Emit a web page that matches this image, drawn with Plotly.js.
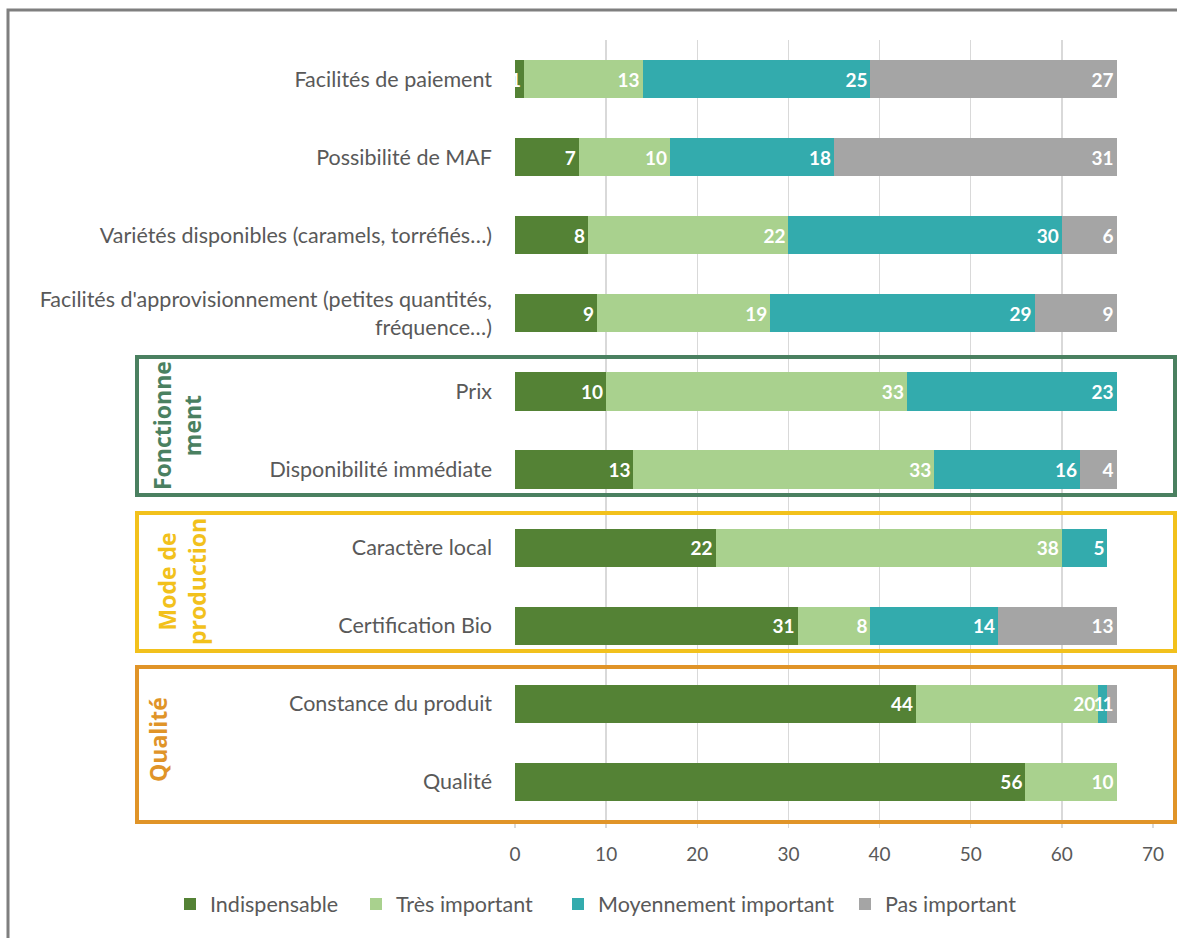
<!DOCTYPE html>
<html><head><meta charset="utf-8">
<script src="https://cdn.plot.ly/plotly-3.0.1.min.js"></script>
<style>body{margin:0;background:#fff}</style>
</head><body><div id="chart" style="width:1177px;height:938px"></div>
<script>
const categories = [
  "Facilités de paiement",
  "Possibilité de MAF",
  "Variétés disponibles (caramels, torréfiés…)",
  "Facilités d'approvisionnement (petites quantités,<br>fréquence…)",
  "Prix",
  "Disponibilité immédiate",
  "Caractère local",
  "Certification Bio",
  "Constance du produit",
  "Qualité"
];
const indispensable = [1, 7, 8, 9, 10, 13, 22, 31, 44, 56];
const tresImportant = [13, 10, 22, 19, 33, 33, 38, 8, 20, 10];
const moyennement = [25, 18, 30, 29, 23, 16, 5, 14, 1, 0];
const pasImportant = [27, 31, 6, 9, 0, 4, 0, 13, 1, 0];
const seriesNames = ["Indispensable", "Très important", "Moyennement important", "Pas important"];
const seriesColors = ["#548235", "#a9d18e", "#33abad", "#a5a5a5"];
const seriesValues = [indispensable, tresImportant, moyennement, pasImportant];

const W = 1177, H = 938, L = 515, R = 1153, T = 40, B = 821;
const px = x => (x - L) / (R - L);
const py = y => (B - y) / (B - T);
const legendIds = ['legend', 'legend2', 'legend3', 'legend4'];
const legendLeft = [170, 356, 558, 845];

const traces = seriesValues.map((vals, i) => ({
  type: 'bar', orientation: 'h', name: seriesNames[i],
  y: categories, x: vals, legend: legendIds[i],
  marker: {color: seriesColors[i]},
  text: vals.map(v => v === 0 ? '' : String(v)),
  textposition: 'inside', insidetextanchor: 'end',
  textfont: {color: '#ffffff', size: 19, family: 'Lato', weight: 'bold'},
  hoverinfo: 'x+y'
}));

function box(x0, y0, x1, y1, color) {
  return {type: 'rect', xref: 'paper', yref: 'paper', x0: px(x0), x1: px(x1), y0: py(y1), y1: py(y0),
    line: {color: color, width: 4}, fillcolor: 'rgba(0,0,0,0)', layer: 'above'};
}
function label(text, x, y, color) {
  return {xref: 'paper', yref: 'paper', x: px(x), y: py(y), text: text, showarrow: false, textangle: -90,
    font: {family: 'Open Sans', size: 23, color: color, weight: 'bold'}, align: 'center',
    xanchor: 'center', yanchor: 'middle'};
}

const layout = {
  width: W, height: H,
  margin: {l: L, r: W - R, t: T, b: H - B},
  barmode: 'stack', bargap: 0.51,
  paper_bgcolor: '#ffffff', plot_bgcolor: '#ffffff',
  font: {family: 'Lato', size: 19, color: '#595959'},
  uniformtext: {minsize: 18, mode: 'show'},
  xaxis: {range: [0, 70], dtick: 10, showgrid: true, gridcolor: '#d9d9d9', gridwidth: 1.5,
    zeroline: false, showline: false, ticks: 'outside', ticklen: 6, tickcolor: '#d9d9d9', tickwidth: 1.5,
    ticklabelstandoff: 10, tickfont: {size: 19, color: '#595959'}},
  yaxis: {autorange: 'reversed', showgrid: false, zeroline: false, showline: false, ticks: '',
    ticklabelstandoff: 22, tickfont: {size: 21.5, color: '#595959'}},
  showlegend: true,
  shapes: [
    {type: 'rect', xref: 'paper', yref: 'paper', x0: px(8), x1: px(1200), y0: py(960), y1: py(10),
      line: {color: '#7f7f7f', width: 3}, fillcolor: 'rgba(0,0,0,0)', layer: 'below'},
    box(137, 357, 1175, 495, '#4a8060'),
    box(137, 513, 1175, 651, '#f2c11c'),
    box(137, 667, 1175, 822, '#e09428')
  ],
  annotations: [
    label('Fonctionne<br>ment', 177, 426, '#4a8060'),
    label('Mode de<br>production', 182, 582, '#f2c11c'),
    label('Qualité', 158, 740, '#e09428')
  ]
};
legendIds.forEach((id, i) => {
  layout[id] = {orientation: 'h', x: px(legendLeft[i]), xref: 'paper', xanchor: 'left',
    y: py(904), yref: 'paper', yanchor: 'middle', bgcolor: 'rgba(0,0,0,0)',
    font: {size: 21.5, color: '#595959'}, itemwidth: 30};
});

Plotly.newPlot('chart', traces, layout, {displayModeBar: false, staticPlot: true});
</script></body></html>
